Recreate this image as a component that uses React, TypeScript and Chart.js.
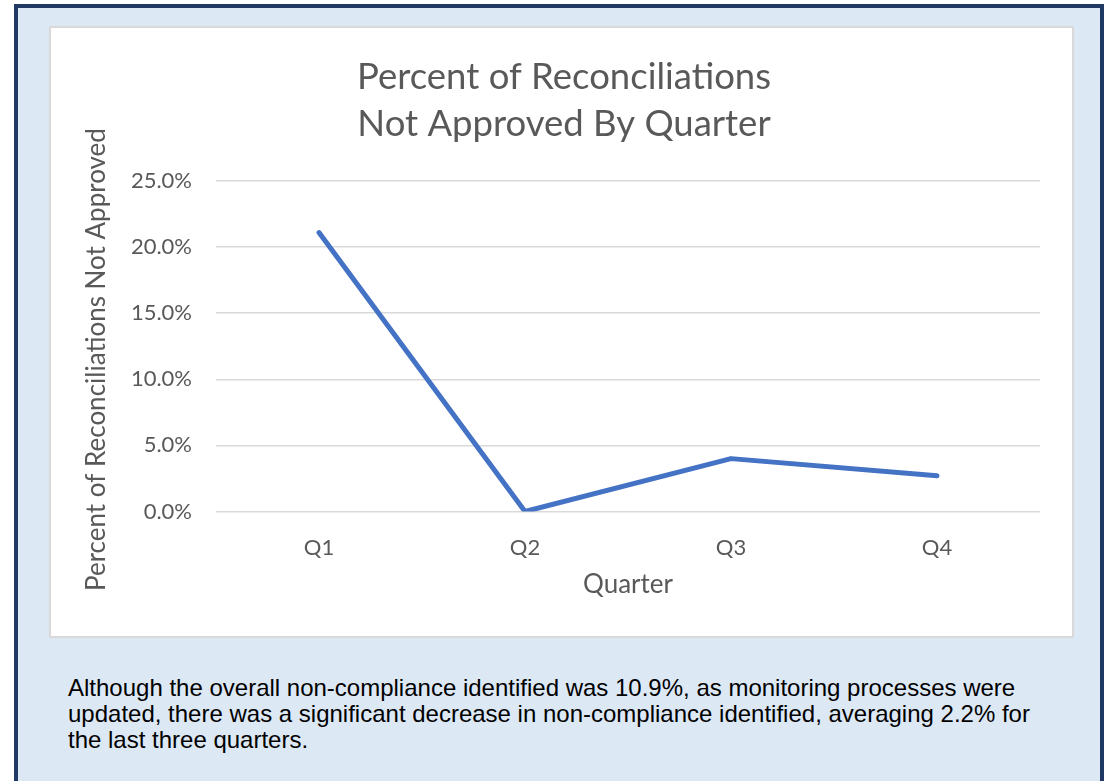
import React, { useEffect, useRef } from "react";
import { Chart, registerables } from "chart.js";

Chart.register(...registerables);

const quarters = ["Q1", "Q2", "Q3", "Q4"];
const percentNotApproved = [21.1, 0.0, 4.0, 2.7];
const yTicks = [0, 5, 10, 15, 20, 25];
const titleLines = ["Percent of Reconciliations", "Not Approved By Quarter"];
const yTitle = "Percent of Reconciliations Not Approved";
const xTitle = "Quarter";

const FONT = "Lato, 'Open Sans', sans-serif";
const GRAY = "#595959";

export default function App() {
  const ref = useRef<HTMLCanvasElement | null>(null);

  useEffect(() => {
    if (!ref.current) return;
    const chart = new Chart(ref.current, {
      type: "line",
      data: {
        labels: quarters,
        datasets: [
          {
            data: percentNotApproved,
            borderColor: "#4472c4",
            backgroundColor: "#4472c4",
            borderWidth: 5,
            pointRadius: 0,
            pointHoverRadius: 0,
            tension: 0,
            borderCapStyle: "round",
            borderJoinStyle: "round",
            fill: false,
          },
        ],
      },
      options: {
        animation: false,
        responsive: false,
        maintainAspectRatio: false,
        layout: { padding: { left: 5, right: 0, top: 0, bottom: 0 } },
        plugins: {
          legend: { display: false },
          tooltip: { enabled: false },
          title: {
            display: true,
            text: titleLines,
            color: GRAY,
            font: { family: FONT, size: 36.5, weight: "normal", lineHeight: 47 / 36.5 },
            padding: { top: 25.5, bottom: 33.5 },
          },
        },
        scales: {
          x: {
            offset: true,
            grid: { display: false, drawTicks: false },
            border: { display: false },
            ticks: {
              color: GRAY,
              font: { family: FONT, size: 22 },
              padding: 23.5,
              maxRotation: 0,
            },
            title: {
              display: true,
              text: xTitle,
              color: GRAY,
              font: { family: FONT, size: 26 },
              padding: { top: 0, bottom: 35.4 },
            },
            afterFit: (s: any) => {
              s.height = 124.5;
            },
          },
          y: {
            min: 0,
            max: 25,
            afterBuildTicks: (s: any) => {
              s.ticks = yTicks.map((v) => ({ value: v }));
            },
            grid: { color: "#d9d9d9", lineWidth: 1.5, drawTicks: false },
            border: { display: false },
            ticks: {
              color: GRAY,
              font: { family: FONT, size: 22 },
              padding: 24,
              callback: (v: any) => Number(v).toFixed(1) + "%",
            },
            title: {
              display: true,
              text: yTitle + "    ",
              color: GRAY,
              font: { family: FONT, size: 26 },
              padding: { top: 25.4, bottom: 0 },
            },
            afterFit: (s: any) => {
              s.width = 160;
            },
          },
          yRightSpace: {
            position: "right",
            display: true,
            min: 0,
            max: 25,
            grid: { display: false, drawTicks: false },
            border: { display: false },
            ticks: { display: false },
            afterFit: (s: any) => {
              s.width = 32;
            },
          },
        },
      },
    });
    return () => chart.destroy();
  }, []);

  return (
    <div
      style={{
        position: "absolute",
        left: 0,
        top: 0,
        width: 1106,
        height: 781,
        overflow: "hidden",
        background: "#ffffff",
      }}
    >
      <div
        style={{
          position: "absolute",
          left: 14,
          top: 4,
          width: 1090,
          height: 800,
          boxSizing: "border-box",
          border: "4px solid #203864",
          background: "#dde8f5",
        }}
      />
      <div
        style={{
          position: "absolute",
          left: 49,
          top: 26,
          width: 1025,
          height: 612,
          boxSizing: "border-box",
          border: "2px solid #d9d9d9",
          background: "#ffffff",
        }}
      >
        <canvas ref={ref} width={1021} height={608} style={{ display: "block", width: 1021, height: 608 }} />
      </div>
      <div
        style={{
          position: "absolute",
          left: 68,
          top: 675,
          width: 1030,
          fontFamily: "'Liberation Sans', Arial, sans-serif",
          fontSize: 24,
          lineHeight: "26px",
          color: "#000000",
          whiteSpace: "nowrap",
        }}
      >
        Although the overall non-compliance identified was 10.9%, as monitoring processes were
        <br />
        updated, there was a significant decrease in non-compliance identified, averaging 2.2% for
        <br />
        the last three quarters.
      </div>
    </div>
  );
}
